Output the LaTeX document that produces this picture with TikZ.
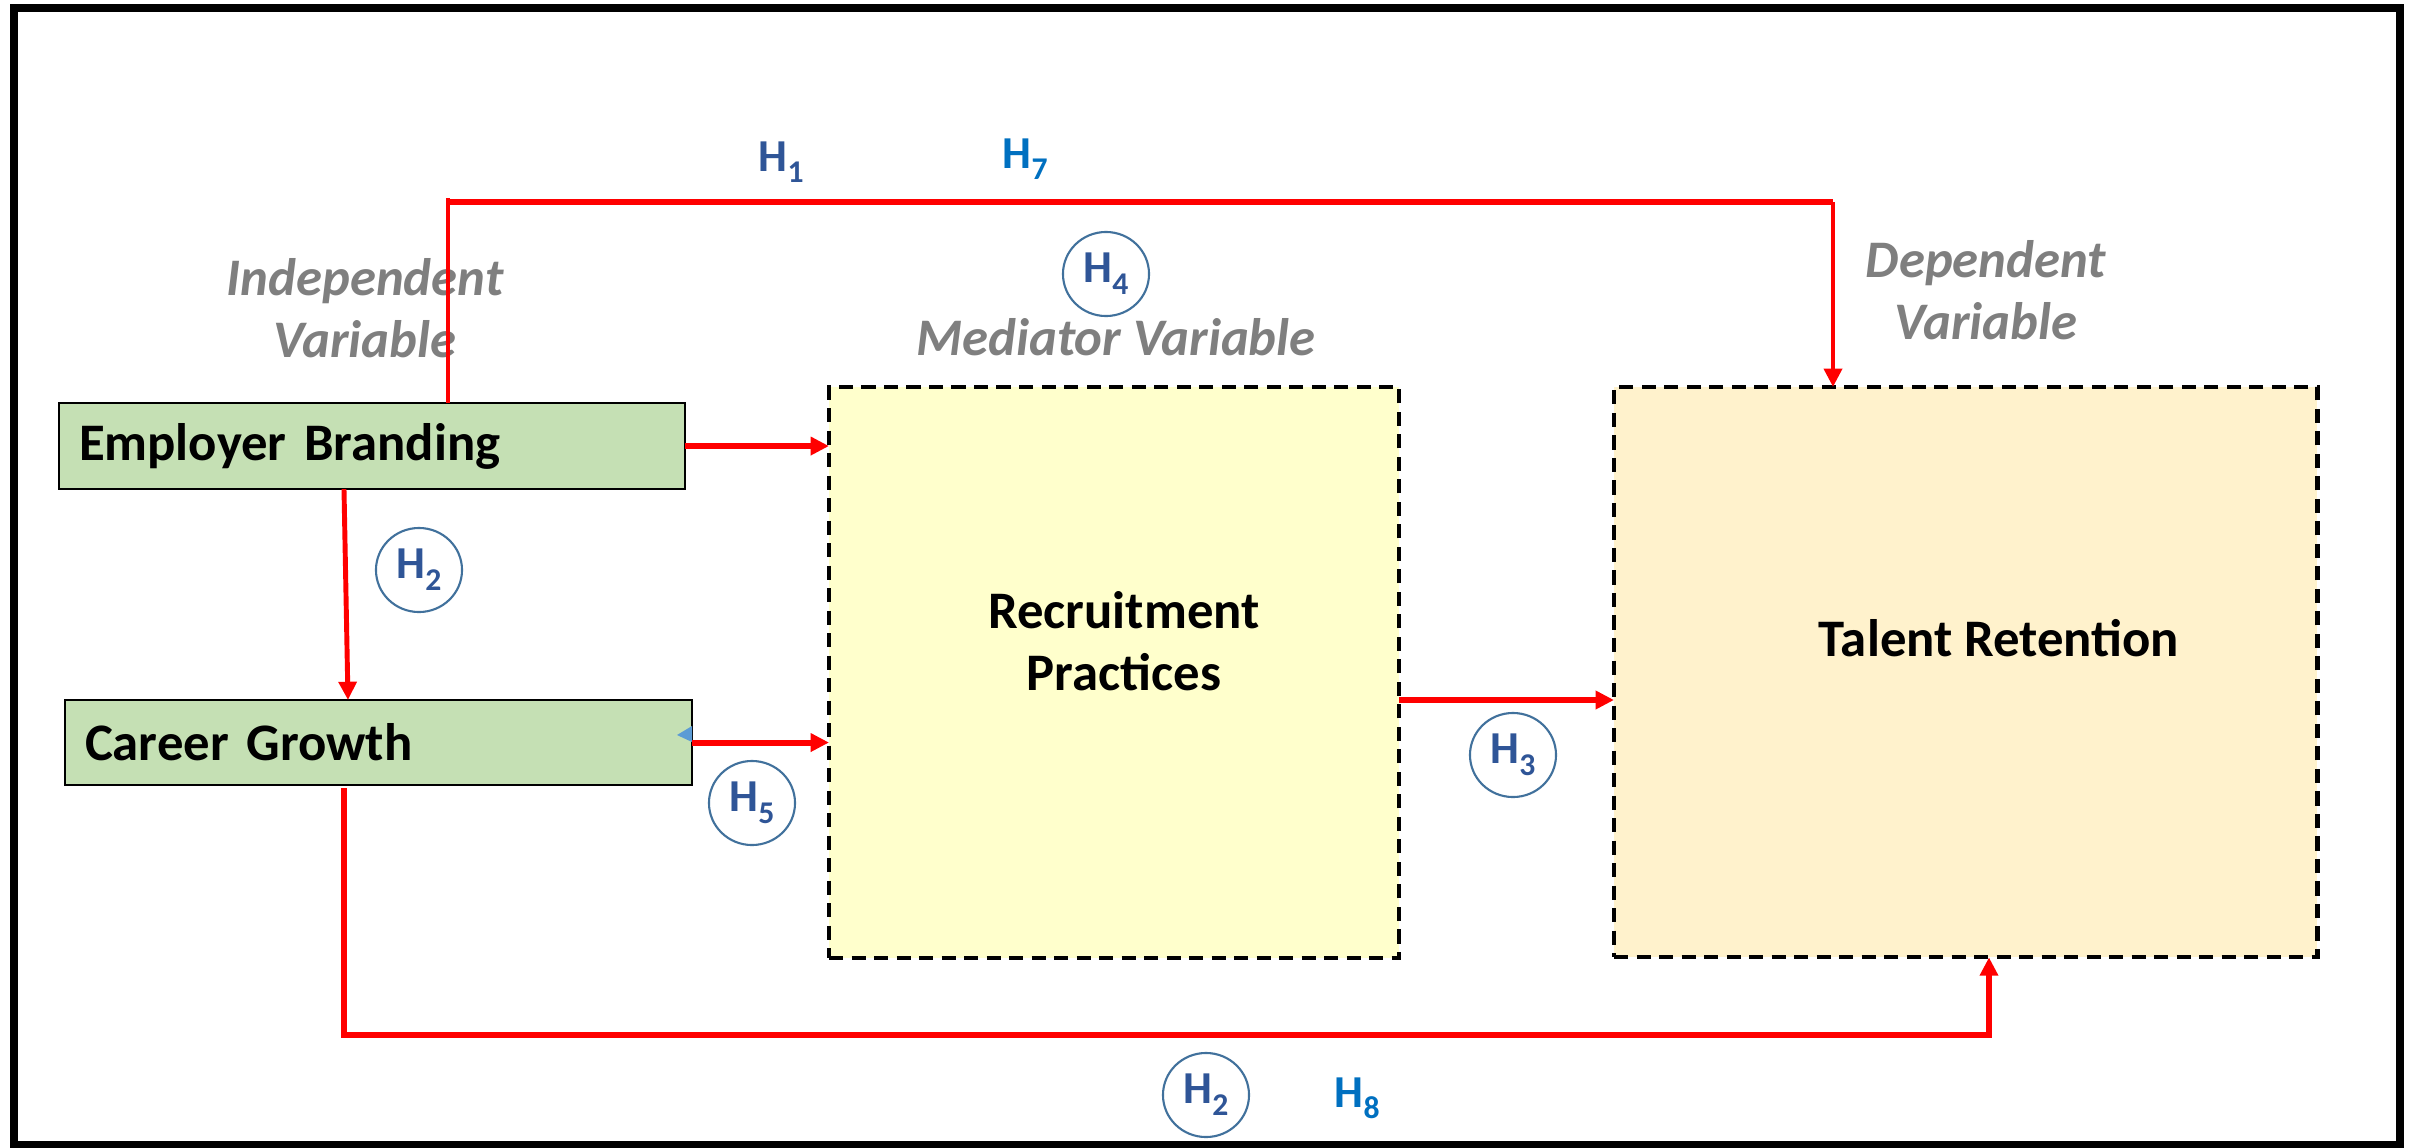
\documentclass[tikz,border=0pt]{standalone}
\usepackage{fontspec}
\setmainfont{Carlito}
\usetikzlibrary{arrows.meta,calc,shapes.geometric}
\definecolor{boxgreen}{HTML}{C5E0B4}
\definecolor{medyellow}{HTML}{FFFFCC}
\definecolor{depyellow}{HTML}{FFF2CC}
\definecolor{hblue}{HTML}{2F5597}
\definecolor{hlight}{HTML}{0070C0}
\definecolor{ringblue}{HTML}{41719C}
\definecolor{labgray}{HTML}{7F7F7F}
\definecolor{triblue}{HTML}{5B9BD5}
\newcommand{\Hs}[1]{H\raisebox{-3.4pt}{\fontsize{9}{10}\selectfont\bfseries #1}}
\begin{document}
\begin{tikzpicture}[x=0.01cm,y=-0.01cm,
  varbox/.style={draw=black, line width=0.6pt, fill=boxgreen, inner xsep=0.2cm, inner ysep=0pt, outer sep=0pt, align=left, font=\fontsize{15}{18}\selectfont\bfseries, anchor=north west},
  dashbox/.style={draw=black, line width=1.2pt, dash pattern=on 4pt off 2.4pt, anchor=north west, outer sep=0pt, inner sep=0pt},
  ring/.style={ellipse, draw=ringblue, line width=0.6pt, minimum width=0.86cm, minimum height=0.84cm, inner sep=0pt, text=hblue, font=\fontsize{13}{15}\selectfont\bfseries},
  hlab/.style={font=\fontsize{13}{15}\selectfont\bfseries, anchor=base west, inner sep=0pt},
  graylab/.style={text=labgray, font=\fontsize{15}{17.6}\selectfont\bfseries\itshape, align=center, inner sep=0pt},
  title/.style={font=\fontsize{15}{17.6}\selectfont\bfseries, align=center, inner sep=0pt},
  link/.style={draw=red, line width=1.4pt},
  flow/.style={draw=red, line width=1.7pt},
  tip/.style={-{Triangle[length=5.2pt,width=5pt]}},
]
\useasboundingbox (0,0) rectangle (2414,1148);
\fill[white] (0,0) rectangle (2414,1148);
% outer frame
\draw[line width=2.3pt] (14,8) rectangle (2400,1145);

% boxes
\node[varbox, text width=5.86cm, minimum height=0.86cm] (eb) at (59,403) {Employer Branding};
\node[varbox, text width=5.87cm, minimum height=0.85cm] (cg) at (65,700) {Career Growth};
\node[dashbox, fill=medyellow, minimum width=5.70cm, minimum height=5.71cm] (rp) at (829,387) {};
\node[dashbox, fill=depyellow, minimum width=7.03cm, minimum height=5.70cm] (tr) at (1614,387) {};
\fill[triblue] (677,735) -- (692,726) -- (692,742) -- cycle;

% box titles
\node[title] (rptext) at (1124,641) {Recruitment\\Practices};
\node[title, anchor=base] (trtext) at (1999,656) {Talent Retention};

% gray labels
\node[graylab] (indep) at (365,308) {Independent\\Variable};
\node[graylab, anchor=base] (med) at (1116,355) {Mediator Variable};
\node[graylab] (dep) at (1986,290) {Dependent\\Variable};

% connectors
\coordinate (k1) at (448,198);
\coordinate (k2) at (1833,202);
\draw[link] (eb.north -| k1) -- (k1);
\draw[flow] (k1 |- k2) -- (k2);
\draw[link, tip] (k2) -- (tr.north -| k2);

\draw[link, tip] ($(eb.south west)+(285,0)$) -- ($(cg.north west)+(283,0)$);
\draw[flow, tip] (eb.east) -- (eb.east -| rp.west);
\draw[flow, tip] (cg.east) -- (cg.east -| rp.west);
\coordinate (k3) at (1399,700);
\draw[flow, tip] (k3) -- (k3 -| tr.west);
\coordinate (k4) at (344,788);
\coordinate (k5) at (1989,1035);
\draw[red, line width=1.5pt, tip] (k4) |- (k5) -- (tr.south -| k5);

% hypothesis labels
\node[hlab, text=hblue] (h1) at (758,171) {\Hs{1}};
\node[hlab, text=hlight] (h7) at (1002,168) {\Hs{7}};
\node[hlab, text=hlight] (h8) at (1334,1107) {\Hs{8}};
\node[ring] (h4) at (1106,274) {\Hs{4}};
\node[ring] (h2a) at (419,570) {\Hs{2}};
\node[ring] (h5) at (752,803) {\Hs{5}};
\node[ring] (h3) at (1513,755) {\Hs{3}};
\node[ring] (h2b) at (1206,1095) {\Hs{2}};
\end{tikzpicture}
\end{document}
